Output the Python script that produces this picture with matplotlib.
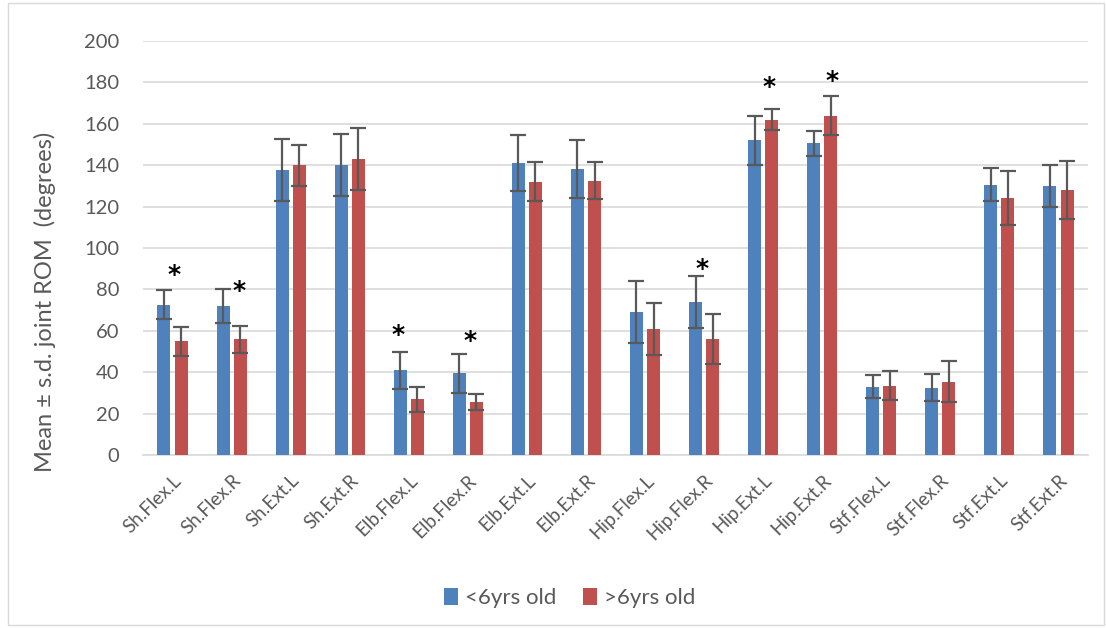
import matplotlib.pyplot as plt
from matplotlib.patches import Rectangle
import numpy as np

plt.rcParams['font.family'] = ['Lato', 'DejaVu Sans']

categories = ["Sh.Flex.L", "Sh.Flex.R", "Sh.Ext.L", "Sh.Ext.R",
              "Elb.Flex.L", "Elb.Flex.R", "Elb.Ext.L", "Elb.Ext.R",
              "Hip.Flex.L", "Hip.Flex.R", "Hip.Ext.L", "Hip.Ext.R",
              "Stf.Flex.L", "Stf.Flex.R", "Stf.Ext.L", "Stf.Ext.R"]
young_mean = [72.5, 72, 137.5, 140, 41, 39.5, 141, 138,
              69, 74, 152, 150.5, 33, 32.5, 130.5, 130]
young_sd = [7, 8, 15, 15, 9, 9.5, 13.5, 14,
            15, 12.5, 12, 6, 5.5, 6.5, 8, 10]
old_mean = [55, 56, 140, 143, 27, 25.5, 132, 132.5,
            61, 56, 162, 164, 33.5, 35.5, 124, 128]
old_sd = [7, 6.5, 10, 15, 6, 4, 9.5, 9,
          12.5, 12, 5, 9.5, 7, 10, 13, 14]
# significance markers: (category index, y value)
stars = [(0, 87), (1, 79), (4, 58), (5, 55), (9, 90), (10, 178), (11, 180.5)]
legend_labels = ["<6yrs old", ">6yrs old"]

def main():
    blue = "#4F81BD"
    red = "#C0504D"
    grey = "#595959"
    fig = plt.figure(figsize=(11.06, 6.28), dpi=100)
    ax = fig.add_axes([143 / 1106, 1 - 455 / 628, 945 / 1106, 414 / 628])
    fig.patches.append(Rectangle((8 / 1106, 0.005), 1096 / 1106, 0.99,
                                 transform=fig.transFigure, fill=False,
                                 edgecolor="#D9D9D9", lw=1))

    x = np.arange(len(categories))
    w = 0.22
    off = 0.145
    err_kw = dict(ecolor=grey, elinewidth=1.6, capsize=6, capthick=1.6)
    ax.bar(x - off, young_mean, w, yerr=young_sd, color=blue,
           label=legend_labels[0], error_kw=err_kw, zorder=3)
    ax.bar(x + off, old_mean, w, yerr=old_sd, color=red,
           label=legend_labels[1], error_kw=err_kw, zorder=3)

    star_dx = {0: 0.03, 1: 0.12, 4: -0.18, 5: 0.04, 9: -0.04, 10: 0.1, 11: 0.17}
    for i, y in stars:
        ax.text(i + star_dx[i], y, "*", ha="center", va="center",
                fontsize=18, fontweight="bold", color="black",
                family="DejaVu Sans", zorder=4)

    ax.set_xlim(-0.5, len(categories) - 0.5)
    ax.set_ylim(0, 200)
    ax.set_yticks(range(0, 201, 20))
    ax.yaxis.grid(True, color="#D9D9D9", lw=1.2, zorder=0)
    ax.set_axisbelow(True)
    for s in ["top", "right", "left"]:
        ax.spines[s].set_visible(False)
    ax.spines["bottom"].set_color("#D9D9D9")
    ax.spines["bottom"].set_linewidth(1.2)
    ax.tick_params(axis="both", length=0, colors=grey, labelsize=14.5)
    ax.tick_params(axis="y", pad=17)
    ax.set_xticks(x)
    ax.set_xticklabels(categories, rotation=45, ha="right",
                       rotation_mode="anchor", fontsize=13.5)
    ax.tick_params(axis="x", pad=12)
    ax.set_ylabel("Mean ± s.d. joint ROM  (degrees)", fontsize=17,
                  color=grey)
    ax.yaxis.set_label_coords(-0.092, 0.37)

    fig.legend(loc="center", bbox_to_anchor=(0.515, 1 - 598 / 628), ncol=2,
               frameon=False, fontsize=16, handlelength=0.65,
               handleheight=0.85, handletextpad=0.3, columnspacing=1.2,
               labelcolor=grey)
    fig.savefig("out.png", dpi=100, facecolor="white")


if __name__ == "__main__":
    main()
